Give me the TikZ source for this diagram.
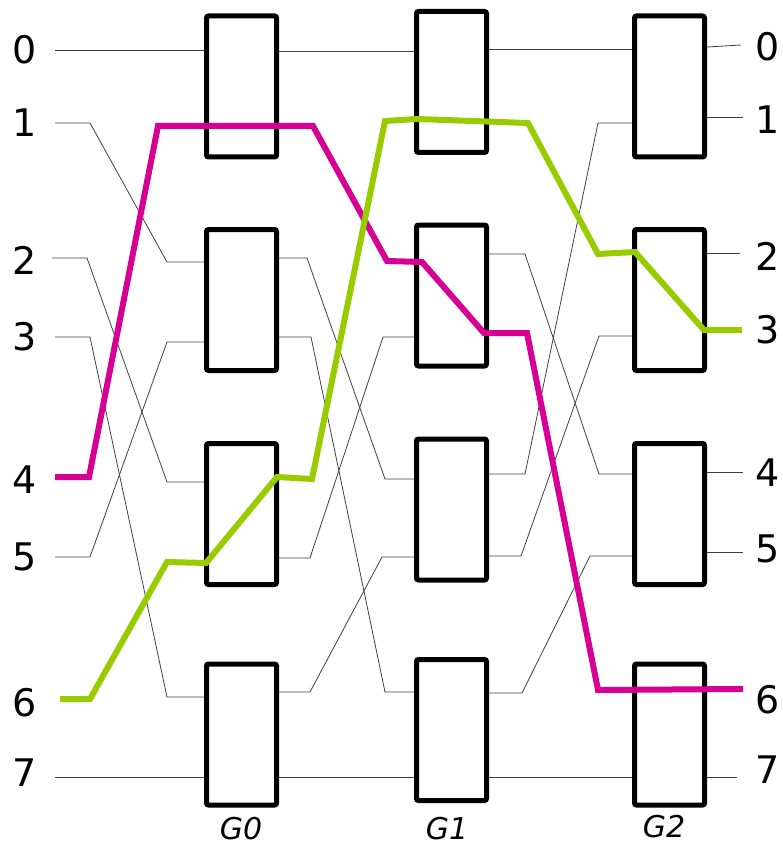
\documentclass[tikz,border=0pt]{standalone}
\usepackage{fontspec}
\setmainfont{DejaVu Sans}
\usepackage{tikz}
\usetikzlibrary{positioning, calc}

\definecolor{routeA}{RGB}{214,0,147}
\definecolor{routeB}{RGB}{153,204,0}

\begin{document}
\begin{tikzpicture}[
        x=1pt, y=-1pt,
        switch/.style={draw, line width=5pt, fill=white, rounded corners=2pt, minimum width=70pt, minimum height=141pt, inner sep=0pt},
        wire/.style={black!75, line width=0.8pt},
        route/.style={line width=6pt},
        lbl/.style={font=\fontsize{38}{40}\selectfont, inner sep=0pt},
        stage/.style={font=\fontsize{30}{32}\selectfont\itshape, inner sep=0pt}
    ]
    \useasboundingbox (0,0) rectangle (783,850);

    % Input and output numbers
    \foreach \i/\y in {0/50, 1/123, 2/260, 3/337, 4/480, 5/557, 6/703, 7/773}
        \node[lbl] (in\i) at (25,\y) {\i};
    \foreach \i/\y in {0/47, 1/120, 2/256, 3/330, 4/473, 5/549, 6/700, 7/770}
        \node[lbl] (out\i) at (768,\y) {\i};

    % Wire ends
    \coordinate (e0) at (741,45);
    \coordinate (e1) at (743,117);
    \coordinate (e2) at (740,253);
    \coordinate (e4) at (743,472);
    \coordinate (e5) at (743,552);
    \coordinate (e7) at (737,777);

    % Input shuffle
    \draw[wire] (55,50) -- (241,50);
    \draw[wire] (55,123) -- (90,123) -- (167,262) -- (241,262);
    \draw[wire] (52,258) -- (87,258) -- (167,482) -- (241,482);
    \draw[wire] (55,337) -- (90,337) -- (167,697) -- (241,697);
    \draw[wire] (55,557) -- (90,557) -- (167,342) -- (241,342);
    \draw[wire] (55,777) -- (241,777);

    % Shuffle G0 -> G1
    \draw[wire] (241,51) -- (451,51);
    \draw[wire] (241,258) -- (307,258) -- (385,479) -- (451,479);
    \draw[wire] (241,337) -- (311,337) -- (385,692) -- (451,692);
    \draw[wire] (241,558) -- (310,558) -- (383,337) -- (451,337);
    \draw[wire] (241,692) -- (310,692) -- (382,557) -- (451,557);
    \draw[wire] (241,777) -- (451,777);

    % Shuffle G1 -> G2
    \draw[wire] (451,49) -- (669,49);
    \draw[wire] (451,254) -- (525,254) -- (599,474) -- (669,474);
    \draw[wire] (451,474) -- (525,474) -- (598,123) -- (669,123);
    \draw[wire] (451,556) -- (521,556) -- (599,336) -- (669,336);
    \draw[wire] (451,693) -- (522,693) -- (590,556) -- (669,556);
    \draw[wire] (451,777) -- (669,777);

    % Switches (on top of the wire ends)
    \foreach \c/\x/\dy in {0/241.5/0, 1/451.5/4.5, 2/669.5/0}
        \foreach \r/\y in {0/86.5, 1/300, 2/514, 3/734.5}
            \node[switch] (g\c\r) at (\x,\y-\dy) {};

    % Outputs
    \draw[wire] (g20.east |- 0,47) -- (e0);
    \draw[wire] (g20.east |- 0,117) -- (e1);
    \draw[wire] (g21.east |- 0,253) -- (e2);
    \draw[wire] (g22.east |- 0,472) -- (e4);
    \draw[wire] (g22.east |- 0,552) -- (e5);
    \draw[wire] (g23.east |- 0,777) -- (e7);

    % Routes
    \draw[route, routeA] (55,477) -- (89,477) -- (158,126) -- (313,126) -- (387,261) -- (422,262)
        -- (484,333) -- (527,333) -- (598,690) -- (743,689);
    \draw[route, routeB] (60,699) -- (90,699) -- (167,562) -- (206,563) -- (277,477) -- (312,479)
        -- (385,121) -- (417,119) -- (528,123) -- (598,254) -- (635,252) -- (704,330) -- (742,330);

    % Stage names
    \node[stage] (G0) at (241,829) {G0};
    \node[stage] (G1) at (447,829) {G1};
    \node[stage] (G2) at (664,827) {G2};

\end{tikzpicture}
\end{document}
